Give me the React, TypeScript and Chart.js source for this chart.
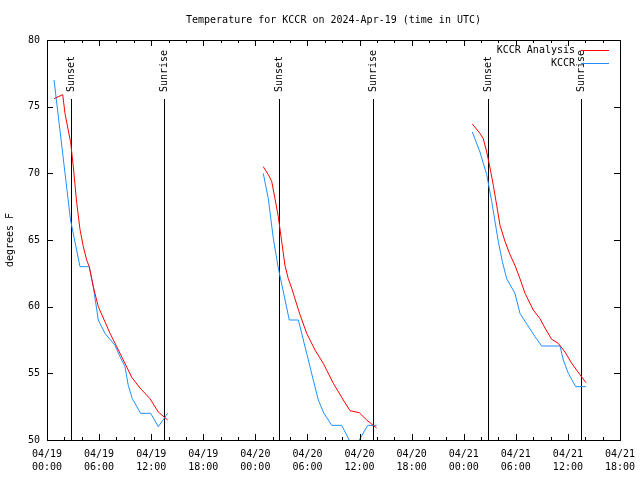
import React, { useEffect, useRef } from "react";
import { Chart, registerables } from "chart.js";

Chart.register(...registerables);

const titleText = "Temperature for KCCR on 2024-Apr-19 (time in UTC)";
const yAxisTitle = "degrees F";
const seriesLabels = ["KCCR Analysis", "KCCR"];
const seriesColors = ["#ff0000", "#1e90ff"];

// hours since 04/19 00:00 UTC
const analysisHours = [
  0.81, 1.81, 2.07, 2.73, 3.03, 3.42, 3.8, 4.18, 4.57, 4.87, 5.33, 5.91, 7.26, 8.03, 8.79, 9.76, 10.71, 11.86, 12.82, 13.9,
  24.91, 25.49, 25.88, 26.26, 26.64, 27.03, 27.41, 27.79, 28.18, 28.56, 29.14, 29.91, 30.87, 31.82, 32.98, 34.13, 34.9, 35.97, 36.82, 37.97,
  48.99, 49.87, 50.25, 50.65, 51.03, 51.41, 51.8, 52.18, 52.75, 53.33, 53.9, 54.48, 55.06, 56.01, 56.78, 57.36, 58.13, 58.89, 59.66, 60.44, 61.39, 62.08,
];
const analysisTemps = [
  75.6, 75.9, 74.5, 72.3, 70.5, 67.8, 65.8, 64.5, 63.5, 63.0, 61.5, 60.0, 58.0, 57.0, 56.0, 54.7, 53.9, 53.1, 52.1, 51.5,
  70.5, 69.9, 69.4, 68.1, 66.75, 64.9, 63.1, 62.1, 61.4, 60.6, 59.4, 58.0, 56.75, 55.75, 54.25, 53.0, 52.2, 52.05, 51.5, 50.9,
  73.7, 73.0, 72.6, 71.6, 70.4, 69.1, 67.6, 66.1, 64.9, 63.9, 63.1, 62.1, 61.0, 59.75, 59.1, 58.4, 57.55, 57.25, 56.6, 55.75, 54.9, 54.3,
];

const obsHours = [
  0.81, 2.71, 3.8, 4.87, 5.33, 5.91, 6.68, 7.83, 8.41, 8.98, 9.36, 9.82, 10.79, 11.94, 12.82, 13.9,
  24.91, 25.49, 26.07, 26.64, 27.91, 28.95, 29.91, 30.67, 31.25, 31.9, 32.79, 33.94, 35.36, 36.94, 37.97,
  48.99, 49.87, 50.65, 51.22, 51.98, 52.44, 52.95, 53.9, 54.48, 55.06, 56.21, 56.98, 59.09, 59.47, 60.05, 60.9, 62.08,
];
const obsTemps = [
  77.0, 66.5, 63.0, 63.0, 61.5, 59.0, 58.0, 57.1, 56.25, 55.5, 54.1, 53.1, 52.0, 52.0, 51.0, 52.0,
  70.0, 68.1, 65.1, 62.9, 59.0, 59.0, 56.5, 54.5, 53.0, 52.0, 51.1, 51.1, 49.3, 51.1, 51.1,
  73.1, 71.6, 69.9, 67.9, 64.9, 63.4, 62.1, 61.0, 59.5, 58.9, 57.75, 57.05, 57.05, 56.0, 55.0, 54.0, 54.0,
];

const sunsetHours = [2.73, 26.76, 50.83];
const sunriseHours = [13.51, 37.58, 61.54];
const sunLineTopTemp = 75.6;
const sunLabelTemp = 76.1;

const xMin = 0;
const xMax = 66;
const xMajorStep = 6;
const xMinorStep = 2;
const yMin = 50;
const yMax = 80;
const yStep = 5;

const FONT = "'DejaVu Sans Mono', 'Liberation Mono', monospace";

const pad2 = (n: number) => (n < 10 ? "0" + n : "" + n);
const hourLabel = (v: number): string[] => {
  const d = Math.floor(v / 24);
  const h = Math.round(v - d * 24);
  return ["04/" + pad2(19 + d), pad2(h) + ":00"];
};

const decorPlugin = {
  id: "gnuplotDecor",
  beforeDatasetsDraw(chart: any) {
    const { ctx, scales } = chart;
    const x = scales.x;
    const y = scales.y;
    ctx.save();
    ctx.strokeStyle = "#000";
    ctx.lineWidth = 1;
    ctx.fillStyle = "#000";
    ctx.font = "10px " + FONT;
    const drawSun = (hours: number[], label: string) => {
      for (const h of hours) {
        const px = Math.round(x.getPixelForValue(h)) + 0.5;
        ctx.beginPath();
        ctx.moveTo(px, y.getPixelForValue(yMin));
        ctx.lineTo(px, Math.round(y.getPixelForValue(sunLineTopTemp)));
        ctx.stroke();
        ctx.save();
        ctx.translate(px, y.getPixelForValue(sunLabelTemp));
        ctx.rotate(-Math.PI / 2);
        ctx.textAlign = "left";
        ctx.textBaseline = "middle";
        ctx.fillText(label, 0, 0);
        ctx.restore();
      }
    };
    drawSun(sunsetHours, "Sunset");
    drawSun(sunriseHours, "Sunrise");
    ctx.restore();
  },
  afterDraw(chart: any) {
    const { ctx, chartArea: a, scales } = chart;
    const x = scales.x;
    const y = scales.y;
    ctx.save();
    ctx.strokeStyle = "#000";
    ctx.lineWidth = 1;
    ctx.beginPath();
    for (let t = xMin; t <= xMax; t += xMinorStep) {
      const len = t % xMajorStep === 0 ? 6 : 3;
      const px = Math.round(x.getPixelForValue(t)) + 0.5;
      ctx.moveTo(px, a.bottom);
      ctx.lineTo(px, a.bottom - len);
      ctx.moveTo(px, a.top);
      ctx.lineTo(px, a.top + len);
    }
    for (let v = yMin; v <= yMax; v += yStep) {
      const py = Math.round(y.getPixelForValue(v)) + 0.5;
      ctx.moveTo(a.left, py);
      ctx.lineTo(a.left + 6, py);
      ctx.moveTo(a.right, py);
      ctx.lineTo(a.right - 6, py);
    }
    ctx.stroke();
    ctx.strokeRect(Math.round(a.left) + 0.5, Math.round(a.top) + 0.5, Math.round(a.right - a.left), Math.round(a.bottom - a.top));

    // legend
    ctx.font = "10px " + FONT;
    ctx.fillStyle = "#000";
    ctx.textAlign = "right";
    ctx.textBaseline = "middle";
    chart.data.datasets.forEach((ds: any, i: number) => {
      const ly = a.top + 10 + 13 * i;
      ctx.fillText(ds.label, a.right - 45, ly);
      ctx.strokeStyle = ds.borderColor;
      ctx.beginPath();
      ctx.moveTo(a.right - 39, Math.round(ly) + 0.5);
      ctx.lineTo(a.right - 11, Math.round(ly) + 0.5);
      ctx.stroke();
    });
    ctx.restore();
  },
};

export default function App() {
  const ref = useRef<HTMLCanvasElement | null>(null);
  useEffect(() => {
    if (!ref.current) return;
    const mk = (hs: number[], ts: number[]) => hs.map((h, i) => ({ x: h, y: ts[i] }));
    const chart = new Chart(ref.current, {
      type: "line",
      data: {
        datasets: [
          {
            label: seriesLabels[0],
            data: mk(analysisHours, analysisTemps),
            borderColor: seriesColors[0],
            borderWidth: 1,
            pointRadius: 0,
            tension: 0,
            spanGaps: 4,
          },
          {
            label: seriesLabels[1],
            data: mk(obsHours, obsTemps),
            borderColor: seriesColors[1],
            borderWidth: 1,
            pointRadius: 0,
            tension: 0,
            spanGaps: 4,
          },
        ],
      },
      options: {
        animation: false,
        responsive: false,
        devicePixelRatio: 1,
        layout: { padding: { left: 0, right: 20, top: 0, bottom: 0 } },
        plugins: {
          legend: { display: false },
          tooltip: { enabled: false },
          title: {
            display: true,
            text: titleText,
            fullSize: false,
            color: "#000",
            font: { family: FONT, size: 10, weight: "normal" },
            padding: { top: 14, bottom: 14 },
          },
        },
        scales: {
          x: {
            type: "linear",
            min: xMin,
            max: xMax,
            grid: { display: false, drawTicks: false },
            border: { display: false },
            afterBuildTicks: (s: any) => {
              const t = [];
              for (let v = xMin; v <= xMax; v += xMajorStep) t.push({ value: v });
              s.ticks = t;
            },
            afterFit: (s: any) => {
              s.height = 40;
              s.paddingLeft = 0;
              s.paddingRight = 0;
            },
            ticks: {
              color: "#000",
              font: { family: FONT, size: 10, lineHeight: 1.3 },
              padding: 8,
              maxRotation: 0,
              autoSkip: false,
              callback: (v: any) => hourLabel(Number(v)),
            },
          },
          y: {
            type: "linear",
            min: yMin,
            max: yMax,
            grid: { display: false, drawTicks: false },
            border: { display: false },
            afterFit: (s: any) => {
              s.width = 47;
              s.paddingTop = 0;
              s.paddingBottom = 0;
            },
            ticks: {
              stepSize: yStep,
              color: "#000",
              font: { family: FONT, size: 10 },
              padding: 7,
            },
            title: {
              display: true,
              text: yAxisTitle,
              color: "#000",
              font: { family: FONT, size: 10 },
              padding: { top: 4, bottom: 0 },
            },
          },
        },
      } as any,
      plugins: [decorPlugin],
    });
    return () => chart.destroy();
  }, []);
  return (
    <div style={{ position: "absolute", left: 0, top: 0, width: 640, height: 480, background: "#fff" }}>
      <canvas ref={ref} width={640} height={480} />
    </div>
  );
}
